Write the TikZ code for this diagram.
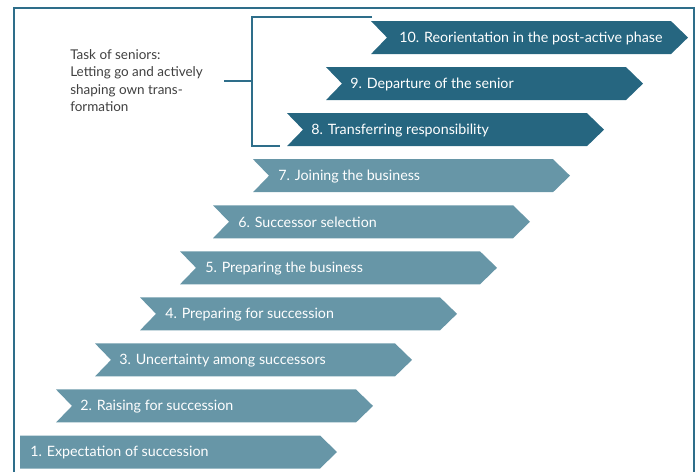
\documentclass[tikz,border=0pt]{standalone}
\usepackage{fontspec}
\setmainfont{Lato}
\usetikzlibrary{positioning}
\begin{document}
\begin{tikzpicture}[x=0.75pt,y=-0.75pt,
	phasetext/.style={text=white, font=\fontsize{10.7}{12}\selectfont, inner sep=0pt, anchor=west},
	rim/.style={draw=framecol, line width=1.6pt},
	brace/.style={draw=framecol, line width=1.1pt}]
	\definecolor{framecol}{RGB}{46,110,138}
	\definecolor{lightphase}{RGB}{103,150,167}
	\definecolor{darkphase}{RGB}{38,102,128}
	\definecolor{notegray}{RGB}{64,64,64}
	\useasboundingbox (0,0) rectangle (700,472);

	% frame, open at the bottom
	\draw[rim] (14,472) -- (14,8) -- (694,8) -- (694,472);

	% the ten phases, bottom to top
	\foreach \n/\lx/\tx/\col/\txt in {
		1/20/10/lightphase/{1. Expectation of succession},
		2/56/24/lightphase/{2. Raising for succession},
		3/95/24/lightphase/{3. Uncertainty among successors},
		4/140/25/lightphase/{4. Preparing for succession},
		5/180/25/lightphase/{5. Preparing the business},
		6/213/25/lightphase/{6. Successor selection},
		7/253/25/lightphase/{7. Joining the business},
		8/287/24/darkphase/{8. Transferring responsibility},
		9/326/24/darkphase/{9. Departure of the senior},
		10/371/28/darkphase/{10. Reorientation in the post-active phase}}
	{
		\pgfmathsetmacro{\yc}{452-(\n-1)*46.05}
		\ifnum\n=1
			\fill[\col] (\lx,\yc-16.5) -- ++(300,0) -- ++(17,16.5) -- ++(-17,16.5) -- ++(-300,0) -- cycle;
		\else
			\fill[\col] (\lx,\yc-16.5) -- ++(300,0) -- ++(17,16.5) -- ++(-17,16.5) -- ++(-300,0) -- ++(16,-16.5) -- cycle;
		\fi
		\node[phasetext] (p\n) at (\lx+\tx,\yc+0.8) {\txt};
	}

	% what the seniors have to do
	\node[anchor=west, align=left, text=notegray, inner sep=0pt,
		font=\fontsize{10.1}{13.1}\selectfont] (task) at (70,80.5)
		{Task of seniors:\\Letting go and actively\\shaping own trans-\\formation};

	\coordinate (bt) at (252,17);
	\coordinate (bb) at (252,146);
	\coordinate (bm) at (252,81);
	\draw[brace] (372,17) -- (bt) -- (bb) -- (280,146);
	\draw[brace] (224,81) -- (bm);
\end{tikzpicture}
\end{document}
